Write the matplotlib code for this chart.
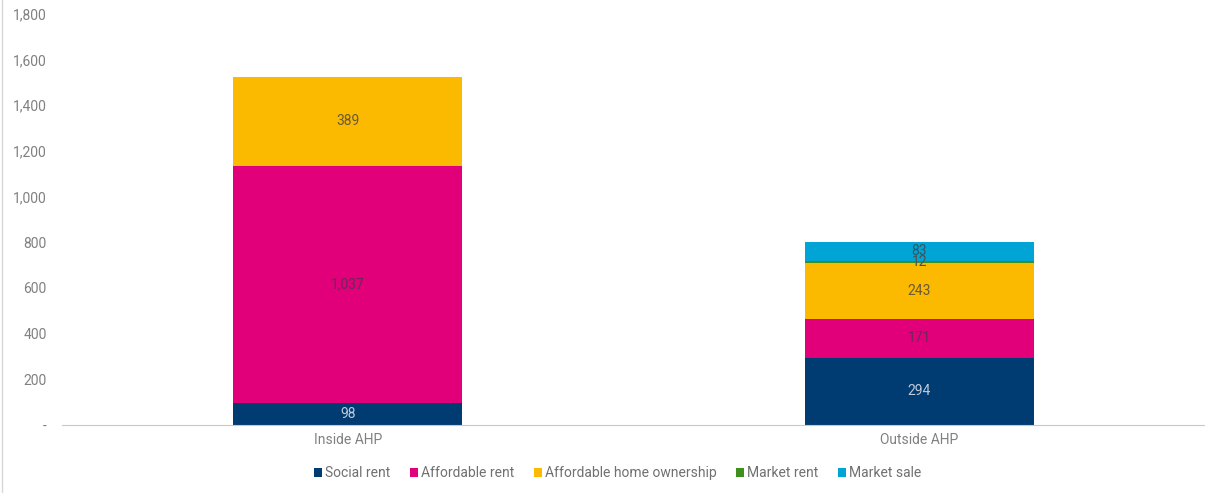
import numpy as np
import matplotlib.pyplot as plt
from matplotlib.lines import Line2D
from matplotlib.ticker import FuncFormatter

categories = ["Inside AHP", "Outside AHP"]
series = ["Social rent", "Affordable rent", "Affordable home ownership", "Market rent", "Market sale"]
social_rent = [98, 294]
affordable_rent = [1037, 171]
affordable_home_ownership = [389, 243]
market_rent = [0, 12]
market_sale = [0, 83]

colors = ["#003b71", "#e2007a", "#fbb900", "#3f8f1f", "#00a5d6"]
label_colors = ["#c0cad8", "#6a2858", "#6a5a38", "#505050", "#2f5866"]

plt.rcParams["font.family"] = ["Roboto", "DejaVu Sans"]

fig = plt.figure(figsize=[12.05, 4.93], dpi=100)
ax = fig.add_axes([0.0515, 0.138, 0.9485, 0.834])

x = np.arange(len(categories))
bottom = np.zeros(len(categories))
values = [social_rent, affordable_rent, affordable_home_ownership, market_rent, market_sale]
for name, vals, c, lc in zip(series, values, colors, label_colors):
    vals = np.array(vals, dtype=float)
    ax.bar(x, vals, 0.4, bottom=bottom, color=c, label=name)
    for xi, v, b in zip(x, vals, bottom):
        if v > 0:
            ax.text(xi, b + v / 2, f"{int(v):,}", ha="center", va="center",
                    fontsize=10, color=lc)
    bottom += vals

ax.set_xlim(-0.5, 1.5)
ax.set_ylim(0, 1800)
ax.set_yticks(np.arange(0, 1801, 200))
ax.yaxis.set_major_formatter(FuncFormatter(lambda v, p: "-" if v == 0 else f"{int(v):,}"))
ax.set_xticks(x)
ax.set_xticklabels(categories)
ax.tick_params(axis="both", length=0, labelsize=10, labelcolor="#808080")
ax.tick_params(axis="y", pad=11)
ax.tick_params(axis="x", pad=6)
for s in ["top", "right", "left"]:
    ax.spines[s].set_visible(False)
ax.spines["bottom"].set_color("#c8c8c8")

ax.legend(loc="upper center", bbox_to_anchor=(0.486, -0.07), ncol=5, frameon=False,
          fontsize=10, labelcolor="#707070", handlelength=0.6, handleheight=0.6,
          handletextpad=0.2, columnspacing=1.4)

fig.add_artist(Line2D([0.002, 0.002], [0, 1], transform=fig.transFigure, color="#d8d8d8", lw=1))

plt.savefig("out.png")
